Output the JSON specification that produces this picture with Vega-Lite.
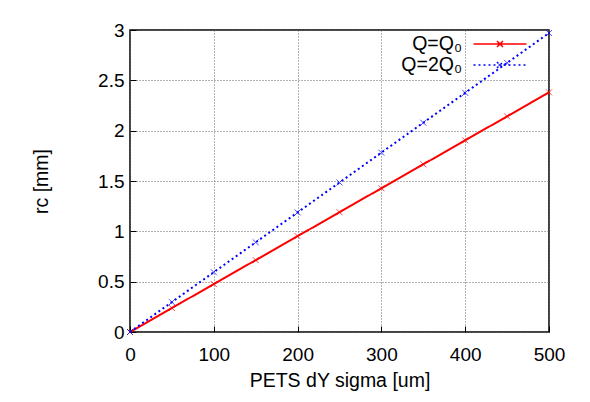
{
  "$schema": "https://vega.github.io/schema/vega-lite/v6.json",
  "width": 419,
  "height": 302,
  "autosize": {"type": "none"},
  "padding": {"left": 130, "top": 30, "right": 41, "bottom": 70},
  "background": "white",
  "config": {
    "font": "Liberation Sans",
    "view": {"stroke": "#000", "strokeWidth": 1.5},
    "axis": {
      "labelFontSize": 19, "titleFontSize": 19.5, "labelColor": "#000", "titleColor": "#000",
      "titleFontWeight": "normal", "domain": false, "gridColor": "#666", "gridDash": [1, 2],
      "gridWidth": 1, "tickColor": "#000", "tickSize": -6, "tickWidth": 1, "labelFlush": false
    }
  },
  "data": {"values": [
    {"x": 0, "r": 0, "series": "Q=Q₀"},
    {"x": 50, "r": 0.238, "series": "Q=Q₀"},
    {"x": 100, "r": 0.476, "series": "Q=Q₀"},
    {"x": 150, "r": 0.714, "series": "Q=Q₀"},
    {"x": 200, "r": 0.952, "series": "Q=Q₀"},
    {"x": 250, "r": 1.19, "series": "Q=Q₀"},
    {"x": 300, "r": 1.428, "series": "Q=Q₀"},
    {"x": 350, "r": 1.666, "series": "Q=Q₀"},
    {"x": 400, "r": 1.904, "series": "Q=Q₀"},
    {"x": 450, "r": 2.142, "series": "Q=Q₀"},
    {"x": 500, "r": 2.38, "series": "Q=Q₀"},
    {"x": 0, "r": 0, "series": "Q=2Q₀"},
    {"x": 50, "r": 0.297, "series": "Q=2Q₀"},
    {"x": 100, "r": 0.594, "series": "Q=2Q₀"},
    {"x": 150, "r": 0.891, "series": "Q=2Q₀"},
    {"x": 200, "r": 1.188, "series": "Q=2Q₀"},
    {"x": 250, "r": 1.485, "series": "Q=2Q₀"},
    {"x": 300, "r": 1.782, "series": "Q=2Q₀"},
    {"x": 350, "r": 2.079, "series": "Q=2Q₀"},
    {"x": 400, "r": 2.376, "series": "Q=2Q₀"},
    {"x": 450, "r": 2.673, "series": "Q=2Q₀"},
    {"x": 500, "r": 2.97, "series": "Q=2Q₀"}
  ]},
  "layer": [
    {
      "mark": {"type": "line", "strokeWidth": 2},
      "encoding": {
        "x": {"field": "x", "type": "quantitative", "scale": {"domain": [0, 500], "nice": false},
          "axis": {"values": [0, 100, 200, 300, 400, 500], "title": "PETS dY sigma [um]", "labelPadding": 19, "titlePadding": 7}},
        "y": {"field": "r", "type": "quantitative", "scale": {"domain": [0, 3], "nice": false},
          "axis": {"values": [0, 0.5, 1, 1.5, 2, 2.5, 3], "format": "~g", "title": "rc [mm]", "labelPadding": 12, "titlePadding": 46}},
        "color": {"field": "series", "type": "nominal",
          "scale": {"domain": ["Q=Q₀", "Q=2Q₀"], "range": ["#ff0000", "#0000ff"]},
          "legend": {"title": null, "orient": "none", "legendX": 359, "legendY": 3, "padding": 0,
            "symbolType": "M-2.65,0H2.65M-0.3,-0.3L0.3,0.3M-0.3,0.3L0.3,-0.3", "symbolSize": 400,
            "symbolStrokeWidth": 1.5, "labelAlign": "right", "labelOffset": -49, "labelFontSize": 19.5,
            "labelColor": "#000", "rowPadding": 0, "labelLimit": 200}},
        "strokeDash": {"field": "series", "type": "nominal",
          "scale": {"domain": ["Q=Q₀", "Q=2Q₀"], "range": [[1, 0], [2, 3]]},
          "legend": {"title": null, "orient": "none", "legendX": 359, "legendY": 3, "padding": 0,
            "symbolType": "M-2.65,0H2.65M-0.3,-0.3L0.3,0.3M-0.3,0.3L0.3,-0.3", "symbolSize": 400,
            "symbolStrokeWidth": 1.5, "labelAlign": "right", "labelOffset": -49, "labelFontSize": 19.5,
            "labelColor": "#000", "rowPadding": 0, "labelLimit": 200}}
      }
    },
    {
      "mark": {"type": "point", "shape": "M-1,-1L1,1M-1,1L1,-1", "filled": false, "size": 36, "strokeWidth": 1},
      "encoding": {
        "x": {"field": "x", "type": "quantitative"},
        "y": {"field": "r", "type": "quantitative"},
        "color": {"field": "series", "type": "nominal", "legend": null}
      }
    }
  ]
}
